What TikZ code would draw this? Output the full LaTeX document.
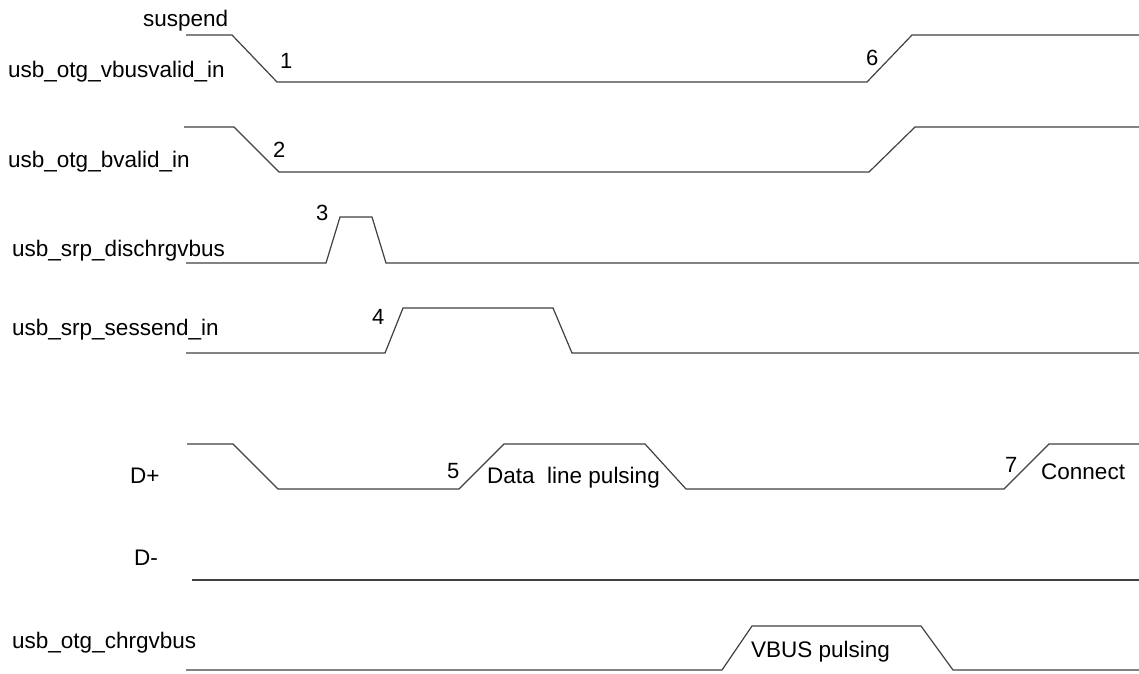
\documentclass[tikz,border=0pt]{standalone}
\usepackage{fontspec}
\setmainfont{Liberation Sans}
\usetikzlibrary{positioning}

\begin{document}
\begin{tikzpicture}[x=1pt, y=-1pt,
  wave/.style={line width=1.2pt, black!75, line join=miter},
  signame/.style={anchor=base west, inner sep=0pt, font=\fontsize{22.5}{27}\selectfont},
  stepno/.style={anchor=base west, inner sep=0pt, font=\fontsize{22}{26}\selectfont}]
\useasboundingbox (0,0) rectangle (1139,673);

% signal names
\node[signame] (suspend) at (143,26) {suspend};
\node[signame] (vbusvalid) at (8,77) {usb\_otg\_vbusvalid\_in};
\node[signame] (bvalid) at (8,167) {usb\_otg\_bvalid\_in};
\node[signame] (dischrg) at (12,256) {usb\_srp\_dischrgvbus};
\node[signame] (sessend) at (12,335) {usb\_srp\_sessend\_in};
\node[signame] (dplus) at (130,483) {D+};
\node[signame] (dminus) at (134,565) {D-};
\node[signame] (chrgvbus) at (12,648) {usb\_otg\_chrgvbus};

% waveforms
\draw[wave] (186,35) -- (232,35) -- (277,82) -- (867,82) -- (912,35) -- (1139,35);
\draw[wave] (184,127) -- (234,127) -- (279,172) -- (869,172) -- (915,127) -- (1139,127);
\draw[wave] (186,263) -- (326,263) -- (340,217) -- (372,217) -- (386,263) -- (1139,263);
\draw[wave] (186,353) -- (385,353) -- (403,308) -- (553,308) -- (572,353) -- (1139,353);
\draw[wave] (187,444) -- (233,444) -- (278,489) -- (459,489) -- (504,444) -- (645,444)
  -- (686,489) -- (1004,489) -- (1049,444) -- (1139,444);
\draw[wave] (192,580) -- (1139,580);
\draw[wave] (186,670) -- (722,670) -- (752,626) -- (921,626) -- (953,670) -- (1139,670);

% step numbers
\node[stepno] (s1) at (280,68) {1};
\node[stepno] (s2) at (273,157) {2};
\node[stepno] (s3) at (316,220) {3};
\node[stepno] (s4) at (372,324) {4};
\node[stepno] (s5) at (447,478) {5};
\node[stepno] (s6) at (866,65) {6};
\node[stepno] (s7) at (1005,472) {7};

% phase texts
\node[signame] (pulsing) at (487,483) {Data\ \ line pulsing};
\node[signame] (connect) at (1041,479) {Connect};
\node[signame] (vbuspulse) at (751,657) {VBUS pulsing};
\end{tikzpicture}
\end{document}
